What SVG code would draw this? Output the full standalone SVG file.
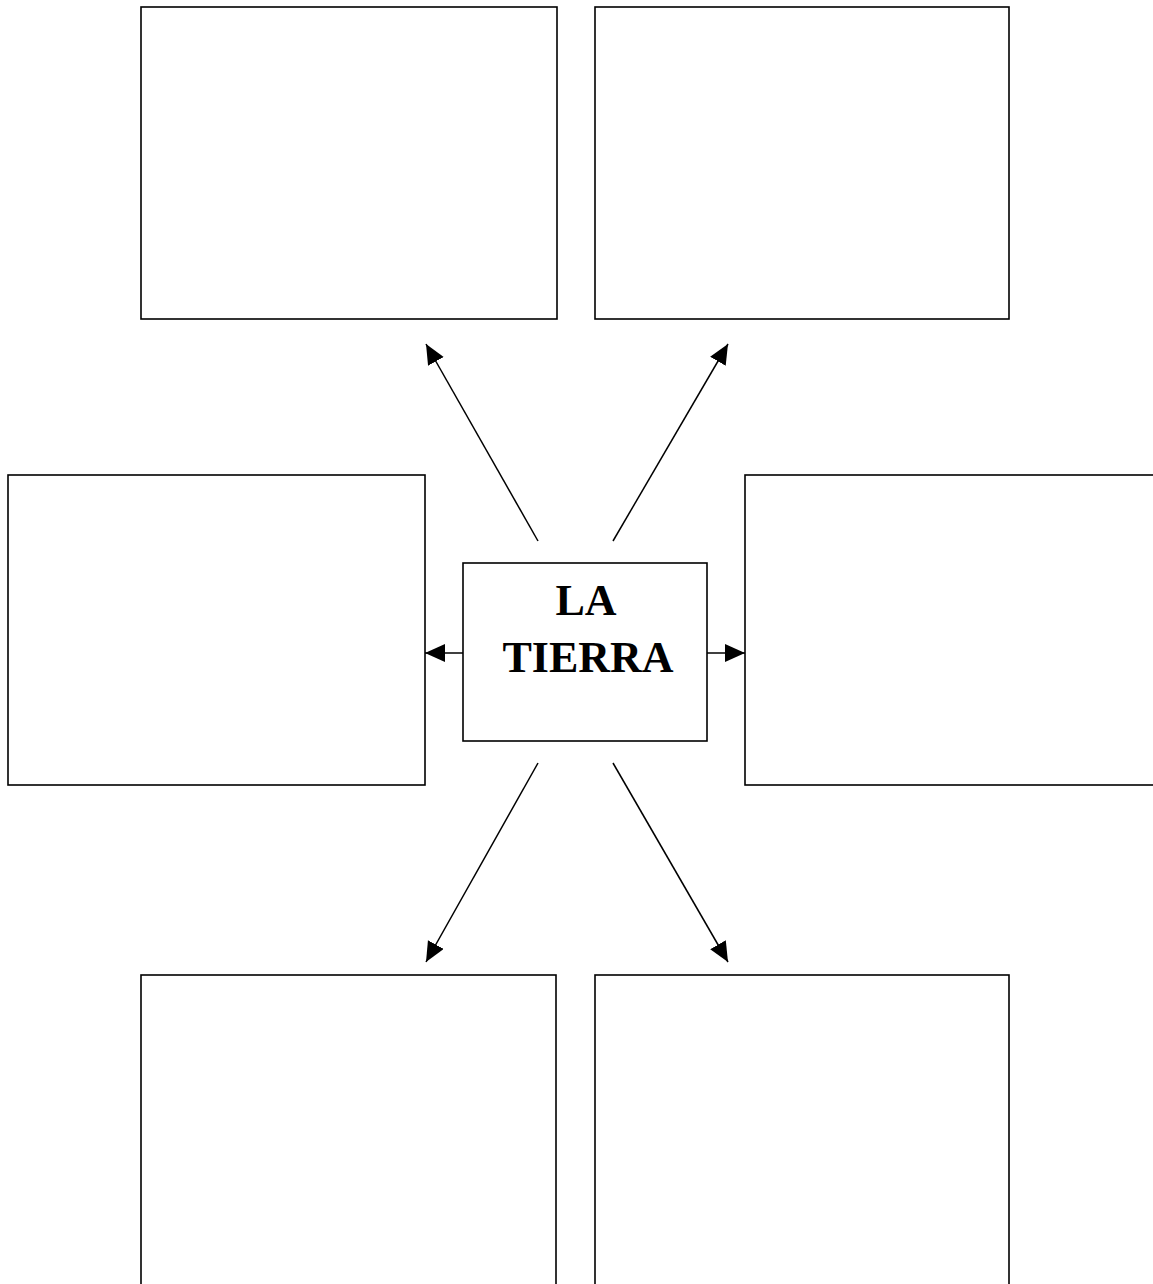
<svg xmlns="http://www.w3.org/2000/svg" width="1153" height="1284" viewBox="0 0 1153 1284">
<style>
.box{fill:#fff;stroke:#000;stroke-width:1.6}
.conn{stroke:#000;stroke-width:1.5;fill:none;marker-end:url(#ah)}
.t{font-family:"Liberation Serif","Times New Roman",serif;font-weight:bold;font-size:44px;text-anchor:middle;fill:#000}
</style>
<defs>
<marker id="ah" markerUnits="userSpaceOnUse" markerWidth="22" markerHeight="20" refX="20" refY="9" orient="auto">
<path d="M0,0 L20,9 L0,18 Z" fill="#000"/>
</marker>
</defs>
<rect width="1153" height="1284" fill="#fff"/>
<g id="connectors">
<line class="conn" x1="538" y1="541" x2="426" y2="344"/>
<line class="conn" x1="613" y1="541" x2="728" y2="344"/>
<line class="conn" x1="463" y1="653" x2="425" y2="653"/>
<line class="conn" x1="707" y1="653" x2="745" y2="653"/>
<line class="conn" x1="538" y1="763" x2="426" y2="962"/>
<line class="conn" x1="613" y1="763" x2="728" y2="962"/>
</g>
<g id="box-top-left"><rect class="box" x="141" y="7" width="416" height="312"/></g>
<g id="box-top-right"><rect class="box" x="595" y="7" width="414" height="312"/></g>
<g id="box-mid-left"><rect class="box" x="8" y="475" width="417" height="310"/></g>
<g id="box-mid-right"><rect class="box" x="745" y="475" width="420" height="310"/></g>
<g id="box-bottom-left"><rect class="box" x="141" y="975" width="415" height="320"/></g>
<g id="box-bottom-right"><rect class="box" x="595" y="975" width="414" height="320"/></g>
<g id="center">
<rect class="box" x="463" y="563" width="244" height="178"/>
<text class="t" x="586" y="615">LA</text>
<text class="t" x="588" y="672">TIERRA</text>
</g>
</svg>
